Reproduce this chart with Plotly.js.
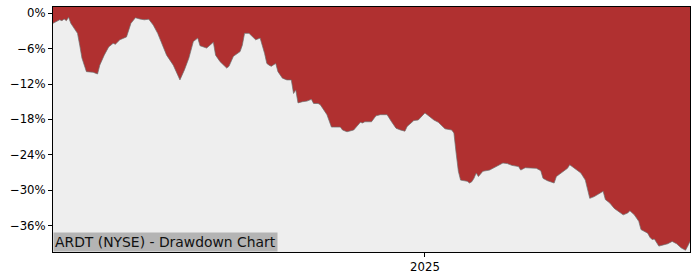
<!DOCTYPE html>
<html>
<head>
<meta charset="utf-8">
<script src="https://cdn.plot.ly/plotly-3.0.1.min.js"></script>
<style>html,body{margin:0;padding:0;background:#fff}#chart{width:700px;height:280px}</style>
</head>
<body>
<div id="chart"></div>
<script>
const dates = [
"2024-07-18","2024-07-21","2024-07-22","2024-07-23","2024-07-24","2024-07-25","2024-07-26","2024-07-29","2024-07-30","2024-07-31",
"2024-08-02","2024-08-05","2024-08-07","2024-08-08","2024-08-10","2024-08-12","2024-08-14","2024-08-15","2024-08-17","2024-08-20",
"2024-08-22","2024-08-24","2024-08-26","2024-08-28","2024-08-30","2024-09-01","2024-09-03","2024-09-05","2024-09-07","2024-09-10",
"2024-09-13","2024-09-15","2024-09-17","2024-09-19","2024-09-21","2024-09-22","2024-09-25","2024-09-28","2024-09-29","2024-10-01",
"2024-10-04","2024-10-05","2024-10-07","2024-10-10","2024-10-11","2024-10-12","2024-10-14","2024-10-17","2024-10-19","2024-10-21",
"2024-10-22","2024-10-23","2024-10-24","2024-10-26","2024-10-27","2024-10-29","2024-10-31","2024-11-02","2024-11-03","2024-11-04",
"2024-11-05","2024-11-07","2024-11-09","2024-11-11","2024-11-12","2024-11-14","2024-11-15","2024-11-18","2024-11-20","2024-11-21",
"2024-11-24","2024-11-25","2024-11-27","2024-11-30","2024-12-01","2024-12-03","2024-12-04","2024-12-05","2024-12-08","2024-12-10",
"2024-12-12","2024-12-15","2024-12-17","2024-12-19","2024-12-21","2024-12-23","2024-12-24","2024-12-27","2024-12-29","2024-12-31",
"2025-01-01","2025-01-02","2025-01-05","2025-01-07","2025-01-08","2025-01-10","2025-01-13","2025-01-14","2025-01-15","2025-01-16",
"2025-01-17","2025-01-20","2025-01-21","2025-01-22","2025-01-23","2025-01-24","2025-01-25","2025-01-27","2025-01-30","2025-02-02",
"2025-02-05","2025-02-07","2025-02-09","2025-02-12","2025-02-13","2025-02-15","2025-02-18","2025-02-20","2025-02-22","2025-02-23",
"2025-02-25","2025-02-28","2025-03-01","2025-03-03","2025-03-06","2025-03-07","2025-03-09","2025-03-11","2025-03-12","2025-03-14",
"2025-03-16","2025-03-18","2025-03-21","2025-03-22","2025-03-23","2025-03-25","2025-03-27","2025-03-30","2025-03-31","2025-04-02",
"2025-04-03","2025-04-05","2025-04-07","2025-04-08","2025-04-11","2025-04-12","2025-04-13","2025-04-14","2025-04-16","2025-04-18",
"2025-04-20","2025-04-22","2025-04-24","2025-04-26","2025-04-28","2025-04-29","2025-04-30"
];
const drawdown = [
-1.7,-1.1,-1.25,-0.97,-1.25,-0.68,-1.7,-3.4,-5.4,-7.6,
-9.9,-10.0,-10.3,-8.8,-7.1,-5.7,-5.1,-5.25,-4.5,-4.0,
-1.7,-0.75,-0.97,-1.1,-1.0,-2.0,-3.4,-5.4,-7.1,-8.8,
-11.3,-9.6,-7.6,-4.8,-4.2,-5.5,-5.9,-4.9,-7.1,-8.2,
-9.3,-9.0,-7.3,-6.5,-5.4,-3.4,-3.4,-4.5,-4.2,-6.8,
-8.5,-8.8,-9.0,-8.5,-9.9,-11.0,-11.3,-11.3,-13.6,-13.0,
-15.2,-15.0,-14.9,-14.6,-15.3,-15.3,-15.5,-17.2,-19.3,-19.3,
-19.3,-19.8,-20.1,-19.8,-19.3,-18.5,-18.6,-18.4,-18.4,-17.4,
-17.2,-17.2,-18.4,-19.5,-19.8,-20.0,-19.2,-18.2,-18.1,-17.2,
-16.9,-17.2,-18.1,-18.5,-18.9,-19.6,-19.8,-20.3,-23.7,-26.8,
-28.3,-28.5,-28.8,-28.6,-28.0,-27.1,-27.7,-26.8,-26.6,-26.0,
-25.4,-25.5,-25.8,-26.0,-26.6,-26.2,-26.3,-26.3,-26.7,-28.0,
-28.4,-28.8,-27.7,-27.1,-26.3,-25.7,-26.3,-26.8,-27.1,-28.3,
-31.4,-31.1,-30.5,-30.2,-31.6,-32.2,-33.1,-33.9,-34.2,-33.9,
-33.5,-34.2,-35.3,-36.7,-37.3,-38.0,-38.4,-38.3,-39.5,-39.3,
-39.1,-38.7,-39.1,-39.8,-40.2,-39.5,-38.7
];
const yTickVals = [0,-6,-12,-18,-24,-30,-36];
const yTickText = ["0%","\u22126%","\u221212%","\u221218%","\u221224%","\u221230%","\u221236%"];
const xTickVals = ["2025-01-01"];
const xTickText = ["2025"];
const chartLabel = "ARDT (NYSE) - Drawdown Chart";

const Y_MIN = -40.5, Y_MAX = 1.07;
const xFirst = dates[0], xLast = dates[dates.length-1];

const traces = [
  {x:[xFirst,xLast], y:[Y_MAX,Y_MAX], mode:'lines', line:{width:0,color:'rgba(0,0,0,0)'}, hoverinfo:'skip', showlegend:false},
  {x:dates, y:drawdown, mode:'lines', fill:'tonexty', fillcolor:'#b03030',
   line:{color:'rgba(110,110,110,0.7)', width:1}, showlegend:false}
];
const axisCommon = {showline:true, linecolor:'#000', linewidth:1, mirror:true, ticks:'outside', ticklen:4, tickcolor:'#000', tickwidth:1, showgrid:false, zeroline:false, tickfont:{family:'DejaVu Sans', size:11.7, color:'#000'}};
const layout = {
  width:700, height:280,
  margin:{l:53, r:10, t:7, b:28, pad:0},
  paper_bgcolor:'#fff', plot_bgcolor:'#eeeeee',
  xaxis:Object.assign({}, axisCommon, {type:'date', range:[xFirst,xLast], tickmode:'array', tickvals:xTickVals, ticktext:xTickText}),
  yaxis:Object.assign({}, axisCommon, {range:[Y_MIN,Y_MAX], tickmode:'array', tickvals:yTickVals, ticktext:yTickText}),
  annotations:[{xref:'paper', yref:'paper', x:0, y:0, xanchor:'left', yanchor:'bottom', text:chartLabel, showarrow:false,
    bgcolor:'#b4b4b4', borderpad:1, font:{family:'DejaVu Sans', size:13.9, color:'#111'}}]
};
Plotly.newPlot('chart', traces, layout, {staticPlot:true, displayModeBar:false});
</script>
</body>
</html>
